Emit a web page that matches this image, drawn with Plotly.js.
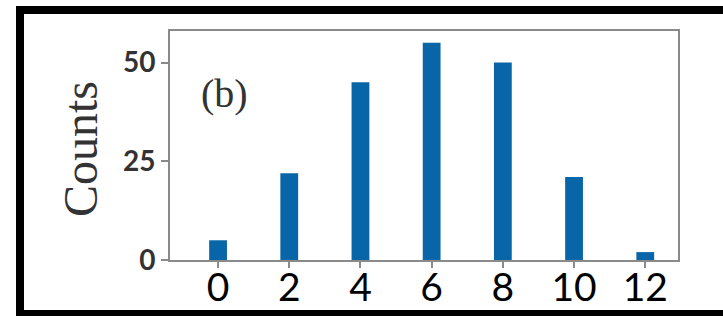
<!DOCTYPE html>
<html>
<head>
<meta charset="utf-8">
<script src="https://cdn.plot.ly/plotly-3.0.1.min.js"></script>
<style>
  html, body { margin: 0; padding: 0; background: #fff; }
  #wrap { position: relative; width: 723px; height: 322px; overflow: hidden; }
  #chart { position: absolute; left: 0; top: 0; width: 723px; height: 322px; }
  #frame { position: absolute; left: 16px; top: 6px; width: 720px; height: 310px;
           border-left: 8px solid #000; border-top: 8px solid #000; border-bottom: 6px solid #000;
           box-sizing: border-box; pointer-events: none; }
</style>
</head>
<body>
<div id="wrap">
  <div id="chart"></div>
  <div id="frame"></div>
</div>
<script>
const categories = [0, 2, 4, 6, 8, 10, 12];
const counts = [5, 22, 45, 55, 50, 21, 2];
const xTickVals = [0, 2, 4, 6, 8, 10, 12];
const xTickText = ['0', '2', '4', '6', '8', '10', '12'];
const yTickVals = [0, 25, 50];
const yTickText = ['0', '25', '50'];

const trace = {
  type: 'bar',
  x: categories,
  y: counts,
  width: 0.5,
  marker: { color: '#0866a8', line: { width: 0 } },
  hoverinfo: 'none'
};

const layout = {
  width: 723,
  height: 322,
  margin: { l: 170, r: 45, t: 31, b: 62, pad: 0 },
  paper_bgcolor: '#ffffff',
  plot_bgcolor: '#ffffff',
  showlegend: false,
  xaxis: {
    range: [-1.35, 12.92],
    tickvals: xTickVals,
    ticktext: xTickText,
    ticks: 'outside',
    ticklen: 6,
    tickwidth: 2,
    tickcolor: '#8a8a8a',
    ticklabelstandoff: -14,
    showline: true,
    mirror: true,
    linecolor: '#8a8a8a',
    linewidth: 2,
    showgrid: false,
    zeroline: false,
    tickfont: { family: 'Lato, "Open Sans", sans-serif', size: 39, color: '#000' }
  },
  yaxis: {
    range: [0, 58],
    tickvals: yTickVals,
    ticktext: yTickText,
    ticks: 'outside',
    ticklen: 7,
    tickwidth: 2,
    tickcolor: '#8a8a8a',
    showline: true,
    mirror: true,
    linecolor: '#8a8a8a',
    linewidth: 2,
    showgrid: false,
    zeroline: false,
    tickfont: { family: 'Lato, "Open Sans", sans-serif', size: 28, color: '#333', weight: 'bold' }
  },
  annotations: [
    {
      text: 'Counts',
      xref: 'paper', yref: 'paper',
      x: -0.175, y: 0.485,
      xanchor: 'center', yanchor: 'middle',
      textangle: -90,
      showarrow: false,
      font: { family: '"Liberation Serif", "DejaVu Serif", serif', size: 48, color: '#333' }
    },
    {
      text: '(b)',
      xref: 'paper', yref: 'paper',
      x: 0.108, y: 0.729,
      xanchor: 'center', yanchor: 'middle',
      showarrow: false,
      font: { family: '"Liberation Serif", "DejaVu Serif", serif', size: 40, color: '#333' }
    }
  ]
};

Plotly.newPlot('chart', [trace], layout, { displayModeBar: false, staticPlot: true });
</script>
</body>
</html>
